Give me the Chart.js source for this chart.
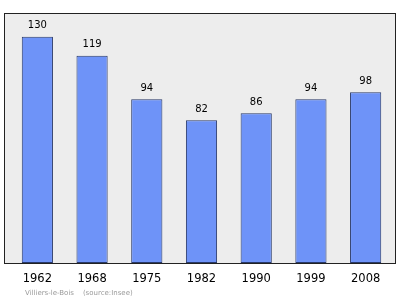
<!DOCTYPE html>
<html><head><meta charset="utf-8">
<script src="https://cdn.jsdelivr.net/npm/chart.js@4/dist/chart.umd.min.js"></script>
<style>html,body{margin:0;padding:0;background:#fff}#w{width:400px;height:299px}</style>
</head><body><div id="w"><canvas id="c" width="400" height="299"></canvas></div>
<script>
const years = ["1962","1968","1975","1982","1990","1999","2008"];
const population = [130,119,94,82,86,94,98];
const footer = "Villiers-le-Bois    (source:Insee)";

const frame = {
  id:'frame',
  beforeDraw(ch){
    const c=ch.ctx; c.save();
    c.fillStyle='#ededed'; c.fillRect(4.5,13.5,391,250);
    c.strokeStyle='#222'; c.lineWidth=1; c.strokeRect(4.5,13.5,391,250);
    c.restore();
  },
  afterDatasetsDraw(ch){
    const c=ch.ctx; c.save();
    c.font='10px "DejaVu Sans", sans-serif'; c.fillStyle='#000'; c.textAlign='center'; c.textBaseline='middle';
    ch.getDatasetMeta(0).data.forEach((b,i)=>{ c.fillText(String(population[i]), b.x, b.y-11); });
    c.font='7px "DejaVu Sans", sans-serif'; c.fillStyle='#9a9a9a'; c.textAlign='left';
    c.fillText(footer, 25, 293);
    c.restore();
  }
};

new Chart(document.getElementById('c'),{
  type:'bar',
  data:{labels:years,datasets:[{data:population,backgroundColor:'#6e93f8',borderColor:'#283868',borderWidth:1,borderSkipped:false,categoryPercentage:1,barPercentage:0.57}]},
  options:{
    responsive:false,animation:false,
    layout:{padding:{top:14,left:10,right:7,bottom:0}},
    plugins:{legend:{display:false},tooltip:{enabled:false}},
    scales:{
      y:{display:false,min:0,max:143},
      x:{grid:{display:false,drawTicks:false},border:{display:false},
         ticks:{padding:9,font:{size:11.5,family:'"DejaVu Sans", sans-serif'},color:'#000',maxRotation:0},
         afterFit(s){s.height=36;}}
    }
  },
  plugins:[frame]
});
</script></body></html>
